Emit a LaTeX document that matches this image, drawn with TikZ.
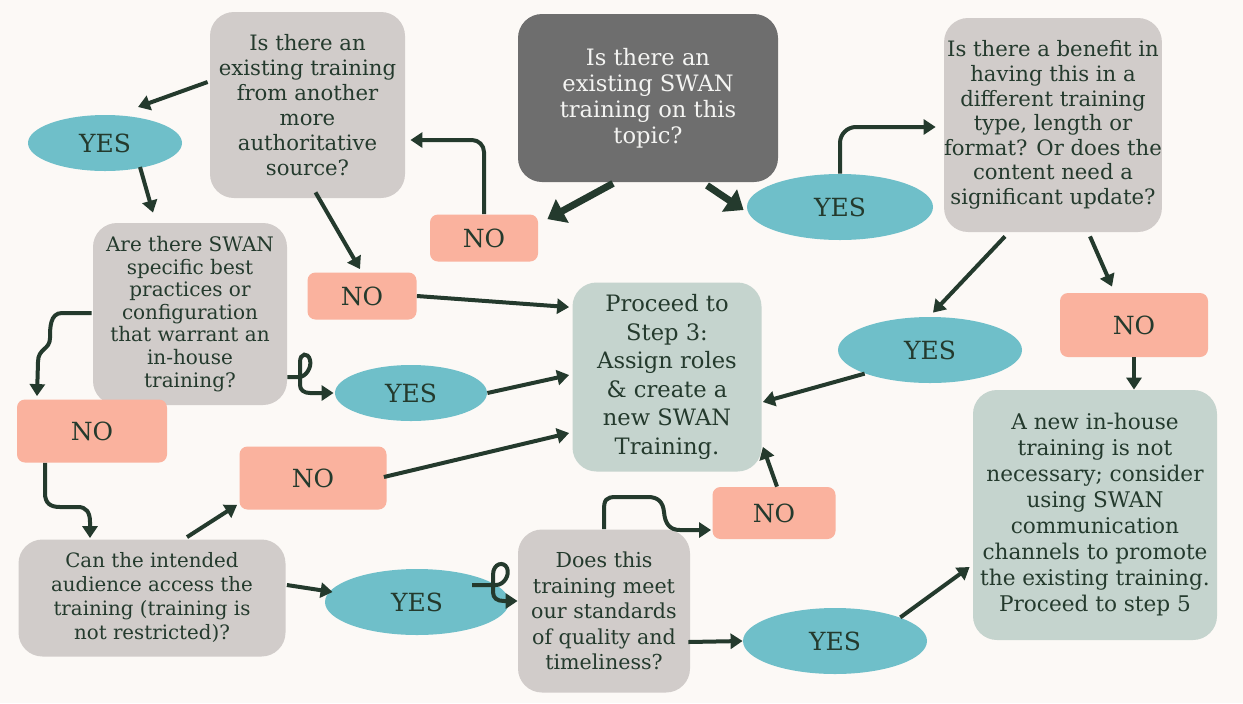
\documentclass[tikz,border=0pt]{standalone}
\usepackage{fontspec}
\setmainfont{DejaVu Serif}
\usetikzlibrary{arrows.meta,calc,shapes.geometric}
\definecolor{bg}{RGB}{252,249,246}
\definecolor{qgray}{RGB}{209,204,202}
\definecolor{dgray}{RGB}{110,110,110}
\definecolor{yescol}{RGB}{111,191,201}
\definecolor{nocol}{RGB}{250,178,158}
\definecolor{rescol}{RGB}{197,212,206}
\definecolor{ink}{RGB}{36,58,45}
\definecolor{lighttext}{RGB}{244,244,242}
\tikzset{
  qbox/.style={rectangle, rounded corners=12pt, fill=qgray, text=ink, align=center, inner sep=0pt},
  resbox/.style={qbox, fill=rescol},
  nobox/.style={rectangle, rounded corners=4pt, fill=nocol, text=ink, inner sep=0pt, font=\fontsize{12.5}{14}\selectfont},
  yesnode/.style={ellipse, fill=yescol, text=ink, inner sep=0pt, font=\fontsize{12.5}{14}\selectfont},
  arr/.style={draw=ink, line width=2pt, -{Triangle[length=6pt,width=7.5pt]}},
  bigarr/.style={draw=ink, line width=3.5pt, -{Triangle[length=8.5pt,width=13pt]}}
}
\begin{document}
\begin{tikzpicture}[x=0.5pt,y=-0.5pt]
\useasboundingbox (0,0) rectangle (1243,703);
\fill[bg] (0,0) rectangle (1243,703);

% question boxes
\node[qbox, minimum width=97.5pt, minimum height=93pt, font=\fontsize{10.6}{12.5}\selectfont] (q1) at (307.5,105)
  {Is there an\\existing training\\from another\\more\\authoritative\\source?};
\node[qbox, fill=dgray, text=lighttext, minimum width=130pt, minimum height=84pt, font=\fontsize{11.3}{13}\selectfont] (q0) at (648,98)
  {Is there an\\existing SWAN\\training on this\\topic?};
\node[qbox, minimum width=108.5pt, minimum height=107pt, font=\fontsize{10.6}{12.3}\selectfont] (q3) at (1053,125)
  {Is there a benefit in\\having this in a\\different training\\type, length or\\format? Or does the\\content need a\\significant update?};
\node[qbox, minimum width=97pt, minimum height=91pt, font=\fontsize{10}{11.3}\selectfont] (q2) at (190,314)
  {Are there SWAN\\specific best\\practices or\\configuration\\that warrant an\\in-house\\training?};
\node[qbox, minimum width=133.5pt, minimum height=58.5pt, font=\fontsize{9.9}{12}\selectfont] (q4) at (152,598)
  {Can the intended\\audience access the\\training (training is\\not restricted)?};
\node[qbox, minimum width=86pt, minimum height=81.5pt, font=\fontsize{10.3}{12.8}\selectfont] (q5) at (604,611)
  {Does this\\training meet\\our standards\\of quality and\\timeliness?};

% result boxes
\node[resbox, minimum width=94.5pt, minimum height=94.5pt, font=\fontsize{11.3}{14.3}\selectfont] (p3) at (667,377)
  {Proceed to\\Step 3:\\Assign roles\\\& create a\\new SWAN\\Training.};
\node[resbox, minimum width=122pt, minimum height=125pt, font=\fontsize{10.8}{13}\selectfont] (p5) at (1095,515)
  {A new in-house\\training is not\\necessary; consider\\using SWAN\\communication\\channels to promote\\the existing training.\\Proceed to step 5};

% NO boxes
\node[nobox, minimum width=54pt, minimum height=23.5pt] (no1) at (484,238) {NO};
\node[nobox, minimum width=54.5pt, minimum height=23.5pt] (no2) at (362,296) {NO};
\node[nobox, minimum width=75pt, minimum height=31.5pt] (no3) at (92,431) {NO};
\node[nobox, minimum width=73.5pt, minimum height=31.5pt] (no4) at (313,478) {NO};
\node[nobox, minimum width=61.5pt, minimum height=26pt] (no5) at (774,513) {NO};
\node[nobox, minimum width=74pt, minimum height=32pt] (no6) at (1134,325) {NO};

% YES ellipses
\node[yesnode, minimum width=77pt, minimum height=28pt] (y1) at (105,143) {YES};
\node[yesnode, minimum width=93pt, minimum height=33pt] (y2) at (840,207) {YES};
\node[yesnode, minimum width=76pt, minimum height=28pt] (y3) at (411,393) {YES};
\node[yesnode, minimum width=92pt, minimum height=33pt] (y4) at (930,350) {YES};
\node[yesnode, minimum width=92pt, minimum height=33pt] (y5) at (417,602) {YES};
\node[yesnode, minimum width=92pt, minimum height=33pt] (y6) at (835,641) {YES};

% connectors
\draw[bigarr] ($(q0.south)+(-35,1)$) -- ($(no1.north east)+(9,5)$);
\draw[bigarr] ($(q0.south)+(59,3)$) -- ($(y2.west)+(-3,3)$);
\draw[arr, rounded corners=6pt] (no1.north) |- ($(q1.east)+(5,35)$);
\draw[arr] ($(q1.west)+(-2,-23)$) -- ($(y1)+(33,-36)$);
\draw[arr] ($(y1)+(35,24)$) -- ($(q2.north)+(-37,-10)$);
\draw[arr] ($(q1.south)+(8,-6)$) -- ($(no2.north)+(-2,-3)$);
\draw[arr] (no2.east) -- ($(p3.north west)+(-3,25)$);
\draw[arr] ($(q2.west)+(-1,-1)$) -- (62,313) .. controls (50,313) and (50,328) .. (50,338)
  .. controls (50,350) and (38,348) .. (38,362) -- ($(no3.north)+(-55,-3)$);
\draw[arr] ($(q2.east)+(0,63)$) -- (299,377) .. controls (306,377) and (312,367) .. (310,360)
  .. controls (308,352) and (300,353) .. (300,362) -- (300,385)
  .. controls (300,390) and (304,393) .. (310,393) -- ($(y3.west)+(-1,0)$);
\draw[arr] (y3.east) -- ($(p3.west)+(-3,-2)$);
\draw[arr] ($(no4.east)+(-3,-1)$) -- ($(p3.west)+(-3,56)$);
\draw[arr] (y4.south west) -- ($(p3.east)+(1,25)$);
\draw[arr] ($(q3.south)+(-48,4)$) -- ($(y4.north)+(3,-4)$);
\draw[arr] ($(q3.south)+(37,4)$) -- ($(no6.north)+(-22,-6)$);
\draw[arr] (no6.south) -- (no6.south |- p5.north);
\draw[arr, rounded corners=8pt] (y2.north) |- ($(q3.west)+(-8,2)$);
\draw[arr] ($(no3.south)+(-47,0)$) -- (45,493) .. controls (45,503) and (50,507) .. (60,507) -- (78,507)
  .. controls (86,507) and (90,512) .. (90,522) -- ($(q4.north)+(-62,-1)$);
\draw[arr] ($(q4.north)+(35,-2)$) -- ($(no4.south west)+(-2,-5)$);
\draw[arr] ($(q4.east)+(1,-13)$) -- ($(y5.west)+(8,-10)$);
\draw[arr] ($(y5)+(55,-17)$) -- (496,585) .. controls (504,585) and (510,575) .. (507,568)
  .. controls (504,561) and (493,563) .. (493,575) -- (493,592)
  .. controls (493,598) and (497,601) .. (504,601) -- ($(q5.west)+(0,-10)$);
\draw[arr] (q5.north) -- (604,510) .. controls (604,500) and (606,497) .. (616,497) -- (648,497)
  .. controls (658,497) and (663,502) .. (664,512) .. controls (665,524) and (670,530) .. (680,530)
  -- ($(no5.west)+(-1,17)$);
\draw[arr] ($(no5.north)+(3,0)$) -- ($(p3.south east)+(1,-25)$);
\draw[arr] ($(q5.east)+(-2,31)$) -- (y6.west);
\draw[arr] (y6.north east) -- ($(p5.west)+(-3,52)$);
\end{tikzpicture}
\end{document}
